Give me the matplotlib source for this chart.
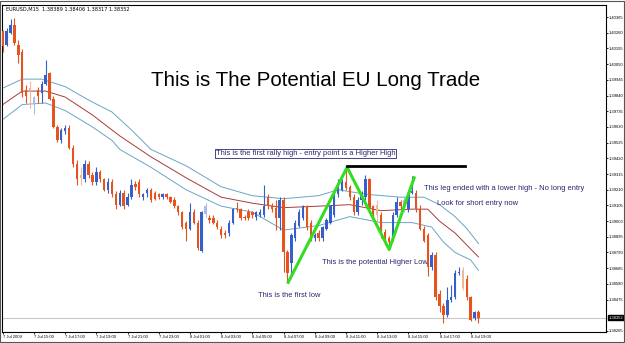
import matplotlib
matplotlib.use('Agg')
import matplotlib.pyplot as plt
from matplotlib.patches import Rectangle

# EURUSD M15, 7 Jul 2009 13:00 onwards, one entry per bar
opens = [1.4027, 1.4018, 1.4026, 1.4031, 1.4018, 1.4013, 1.3988, 1.3989, 1.3979, 1.3988,
         1.3986, 1.3992, 1.3999, 1.3982, 1.3963, 1.3954, 1.3960, 1.3962, 1.3949, 1.3938,
         1.3931, 1.3928, 1.3938, 1.3931, 1.3926, 1.3933, 1.3928, 1.3921, 1.3926, 1.3918,
         1.3911, 1.3919, 1.3911, 1.3916, 1.3925, 1.3926, 1.3916, 1.3919, 1.3921, 1.3919,
         1.3918, 1.3916, 1.3918, 1.3916, 1.3914, 1.3910, 1.3906, 1.3899, 1.3895, 1.3906,
         1.3899, 1.3880, 1.3905, 1.3902, 1.3902, 1.3899, 1.3895, 1.3892, 1.3892, 1.3899,
         1.3909, 1.3908, 1.3903, 1.3906, 1.3906, 1.3903, 1.3904, 1.3904, 1.3916, 1.3910,
         1.3909, 1.3902, 1.3914, 1.3879, 1.3872, 1.3889, 1.3897, 1.3902, 1.3910, 1.3899,
         1.3889, 1.3892, 1.3889, 1.3895, 1.3899, 1.3904, 1.3918, 1.3921, 1.3926, 1.3923,
         1.3916, 1.3906, 1.3914, 1.3916, 1.3928, 1.3910, 1.3911, 1.3904, 1.3893, 1.3889,
         1.3890, 1.3904, 1.3913, 1.3910, 1.3908, 1.3919, 1.3919, 1.3908, 1.3895, 1.3891,
         1.3869, 1.3877, 1.3851, 1.3843, 1.3837, 1.3847, 1.3849, 1.3865, 1.3867, 1.3861,
         1.3849, 1.3835, 1.38389]
highs = [1.4028, 1.4029, 1.4035, 1.4036, 1.4021, 1.4015, 1.3991, 1.3994, 1.3984, 1.3990,
         1.3994, 1.4008, 1.4000, 1.3984, 1.3964, 1.3962, 1.3964, 1.3964, 1.3951, 1.3941,
         1.3936, 1.3941, 1.3940, 1.3933, 1.3936, 1.3934, 1.3929, 1.3929, 1.3928, 1.3920,
         1.3921, 1.3921, 1.3919, 1.3928, 1.3927, 1.3928, 1.3919, 1.3922, 1.3922, 1.3920,
         1.3919, 1.3919, 1.3919, 1.3917, 1.3916, 1.3911, 1.3907, 1.3900, 1.3912, 1.3908,
         1.3901, 1.3907, 1.3912, 1.3904, 1.3904, 1.3901, 1.3897, 1.3894, 1.3901, 1.3909,
         1.3913, 1.3909, 1.3904, 1.3908, 1.3907, 1.3907, 1.3908, 1.3924, 1.3918, 1.3912,
         1.3914, 1.3916, 1.3916, 1.3881, 1.3892, 1.3901, 1.3908, 1.3911, 1.3911, 1.3901,
         1.3892, 1.3894, 1.3897, 1.3902, 1.3911, 1.3919, 1.3928, 1.3928, 1.3936, 1.3924,
         1.3918, 1.3916, 1.3920, 1.3931, 1.3929, 1.3911, 1.3914, 1.3906, 1.3895, 1.3890,
         1.3906, 1.3916, 1.3914, 1.3917, 1.3921, 1.3930, 1.3921, 1.3911, 1.3897, 1.3892,
         1.3879, 1.3879, 1.3854, 1.3845, 1.3856, 1.3857, 1.3867, 1.3869, 1.3869, 1.3864,
         1.3850, 1.3840, 1.38406]
lows = [1.4013, 1.4017, 1.4025, 1.4018, 1.4006, 1.3983, 1.3979, 1.3976, 1.3972, 1.3979,
        1.3979, 1.3991, 1.3981, 1.3962, 1.3953, 1.3952, 1.3958, 1.3948, 1.3936, 1.3924,
        1.3924, 1.3926, 1.3929, 1.3924, 1.3924, 1.3926, 1.3920, 1.3919, 1.3916, 1.3908,
        1.3910, 1.3908, 1.3910, 1.3915, 1.3921, 1.3916, 1.3914, 1.3916, 1.3913, 1.3914,
        1.3915, 1.3915, 1.3915, 1.3912, 1.3909, 1.3904, 1.3895, 1.3887, 1.3894, 1.3898,
        1.3881, 1.3879, 1.3903, 1.3899, 1.3898, 1.3895, 1.3889, 1.3889, 1.3890, 1.3898,
        1.3906, 1.3901, 1.3901, 1.3901, 1.3902, 1.3901, 1.3903, 1.3903, 1.3908, 1.3906,
        1.3894, 1.3894, 1.3866, 1.3859, 1.3864, 1.3887, 1.3896, 1.3901, 1.3894, 1.3887,
        1.3887, 1.3887, 1.3887, 1.3894, 1.3898, 1.3903, 1.3916, 1.3920, 1.3921, 1.3914,
        1.3904, 1.3904, 1.3911, 1.3914, 1.3906, 1.3902, 1.3899, 1.3889, 1.3884, 1.3881,
        1.3887, 1.3903, 1.3908, 1.3906, 1.3906, 1.3918, 1.3906, 1.3894, 1.3886, 1.3863,
        1.3867, 1.3847, 1.3839, 1.3832, 1.3836, 1.3846, 1.3848, 1.3864, 1.3854, 1.3847,
        1.3833, 1.3834, 1.38317]
closes = [1.4017, 1.4027, 1.4031, 1.4019, 1.4011, 1.3986, 1.3984, 1.3988, 1.3983, 1.3984,
          1.3992, 1.3998, 1.3982, 1.3963, 1.3954, 1.3961, 1.3962, 1.3949, 1.3938, 1.3928,
          1.3929, 1.3938, 1.3931, 1.3926, 1.3933, 1.3928, 1.3921, 1.3926, 1.3918, 1.3911,
          1.3919, 1.3910, 1.3916, 1.3924, 1.3923, 1.3918, 1.3918, 1.3921, 1.3914, 1.3915,
          1.3916, 1.3918, 1.3916, 1.3913, 1.3910, 1.3906, 1.3896, 1.3895, 1.3906, 1.3899,
          1.3882, 1.3906, 1.3910, 1.3901, 1.3899, 1.3896, 1.3891, 1.3891, 1.3899, 1.3908,
          1.3908, 1.3902, 1.3902, 1.3902, 1.3904, 1.3906, 1.3906, 1.3910, 1.3910, 1.3908,
          1.3902, 1.3914, 1.3879, 1.3865, 1.3891, 1.3899, 1.3906, 1.3910, 1.3896, 1.3889,
          1.3891, 1.3889, 1.3896, 1.3901, 1.3910, 1.3918, 1.3923, 1.3926, 1.3922, 1.3916,
          1.3906, 1.3914, 1.3918, 1.3928, 1.3909, 1.3905, 1.3904, 1.3891, 1.3887, 1.3886,
          1.3904, 1.3913, 1.3910, 1.3914, 1.3919, 1.3920, 1.3908, 1.3895, 1.3887, 1.3869,
          1.3877, 1.3849, 1.3843, 1.3837, 1.3847, 1.3849, 1.3865, 1.3866, 1.3855, 1.3849,
          1.3834, 1.3839, 1.38352]
faded_bars = [7, 8, 20, 52, 96, 103, 118]

# band lines (bar index, price)
upper_bars = [0, 5, 10, 16, 22, 28, 33, 38, 47, 56, 64, 72, 81, 86, 93, 102, 108, 112, 116, 119, 122]
upper_vals = [1.3989, 1.3995, 1.3995, 1.3990, 1.3981, 1.3973, 1.3961, 1.3948, 1.3937, 1.3923, 1.3917,
              1.3915, 1.3917, 1.3921, 1.3918, 1.3916, 1.3916, 1.3911, 1.3903, 1.3895, 1.3885]
middle_bars = [0, 5, 11, 16, 23, 30, 38, 47, 56, 64, 72, 81, 89, 97, 105, 109, 112, 116, 119, 122]
middle_vals = [1.3978, 1.3987, 1.3987, 1.3983, 1.3971, 1.3957, 1.3943, 1.3929, 1.3916, 1.3912,
               1.3909, 1.3910, 1.3911, 1.3907, 1.3908, 1.3908, 1.3900, 1.3892, 1.3884, 1.3876]
lower_bars = [0, 5, 11, 16, 23, 28, 30, 38, 47, 56, 64, 72, 81, 89, 97, 105, 110, 113, 116, 120, 122]
lower_vals = [1.3968, 1.3978, 1.3979, 1.3974, 1.3963, 1.3954, 1.3948, 1.3936, 1.3921, 1.3910, 1.3906,
              1.3894, 1.3897, 1.3903, 1.3899, 1.3899, 1.3896, 1.3886, 1.3879, 1.3874, 1.3867]

# hand drawn swing lines
swing_bars = [73.2, 88.3, 99.1, 105.5]
swing_vals = [1.3859, 1.3936, 1.3881, 1.3929]
high_line_bars = [88.3, 118.5]
high_line_val = 1.3937

bid = 1.38352
price_ticks = [1.38265, 1.38475, 1.38580, 1.38685, 1.38790, 1.38895, 1.39000, 1.39105,
               1.39210, 1.39315, 1.39420, 1.39525, 1.39630, 1.39735, 1.39840, 1.39945,
               1.40050, 1.40155, 1.40260, 1.40365]
time_ticks = [0, 8, 16, 24, 32, 40, 48, 56, 64, 72, 80, 88, 96, 104, 112, 120]
time_labels = ['7 Jul 2009', '7 Jul 15:00', '7 Jul 17:00', '7 Jul 19:00', '7 Jul 21:00',
               '7 Jul 23:00', '8 Jul 01:00', '8 Jul 03:00', '8 Jul 05:00', '8 Jul 07:00',
               '8 Jul 09:00', '8 Jul 11:00', '8 Jul 13:00', '8 Jul 15:00', '8 Jul 17:00',
               '8 Jul 19:00']

bull, bear = '#3560cc', '#e5531f'
bull_pale, bear_pale = '#a9bde6', '#f2b79a'
navy = '#27276e'
note_font = 5.4
tick_font = dict(family='Liberation Sans', size=3.0)

fig = plt.figure(figsize=(6.25, 3.43), dpi=100)
ax = fig.add_axes([2 / 625, 11 / 343, 604 / 625, 327 / 343])

for i in range(len(opens)):
    up = closes[i] >= opens[i]
    if i in faded_bars:
        col = bull_pale if up else bear_pale
    else:
        col = bull if up else bear
    ax.vlines(i, lows[i], highs[i], color=col, lw=0.8, zorder=3)
    lo = min(opens[i], closes[i])
    h = max(abs(closes[i] - opens[i]), 0.00004)
    ax.bar(i, h, bottom=lo, width=0.62, color=col, lw=0, zorder=4)

ax.plot(upper_bars, upper_vals, color='#6aa5c4', lw=0.7, zorder=2)
ax.plot(lower_bars, lower_vals, color='#6aa5c4', lw=0.7, zorder=2)
ax.plot(middle_bars, middle_vals, color='#a83a3a', lw=0.7, zorder=2)

ax.axhline(bid, color='#c8c8c8', lw=0.8, zorder=1)
ax.plot(swing_bars, swing_vals, color='#33dd22', lw=2.2, zorder=5)
ax.plot(high_line_bars, [high_line_val] * 2, color='black', lw=2.0, zorder=5)

ymin, ymax = 1.38258, 1.40446
ax.set_xlim(-0.2, 154.7)
ax.set_ylim(ymin, ymax)

ax.yaxis.tick_right()
ax.set_yticks(price_ticks)
ax.set_yticklabels([f'{p:.5f}' for p in price_ticks], fontdict=tick_font)
ax.set_xticks(time_ticks)
ax.set_xticklabels(time_labels, fontdict=tick_font, ha='left')
ax.tick_params(axis='both', length=1.5, width=0.6, pad=0.8, colors='black')
for s in ax.spines.values():
    s.set_linewidth(0.8)

# current price box
ax.text(1.004, (bid - ymin) / (ymax - ymin), f'{bid:.5f}', transform=ax.transAxes,
        fontdict=tick_font, color='white', va='center', ha='left',
        bbox=dict(boxstyle='square,pad=0.12', fc='black', ec='black'))

ax.text(0.006, 0.995, 'EURUSD,M15  1.38389 1.38406 1.38317 1.38352', transform=ax.transAxes,
        fontsize=3.6, va='top', ha='left')

ax.text(80.1, 1.3994, 'This is The Potential EU Long Trade', fontsize=14.8,
        family='Liberation Sans', ha='center', va='center')
ax.text(54.7, 1.3945, 'This is the first rally high - entry point is a Higher High', fontsize=note_font,
        family='Liberation Sans', color=navy, ha='left', va='center',
        bbox=dict(boxstyle='square,pad=0.12', fc='white', ec=navy, lw=0.6))
ax.text(108.0, 1.3922, 'This leg ended with a lower high - No long entry', fontsize=note_font,
        family='Liberation Sans', color=navy, ha='left', va='center')
ax.text(111.4, 1.3912, 'Look for short entry now', fontsize=note_font,
        family='Liberation Sans', color=navy, ha='left', va='center')
ax.text(81.9, 1.3872, 'This is the potential Higher Low', fontsize=note_font,
        family='Liberation Sans', color=navy, ha='left', va='center')
ax.text(65.5, 1.3850, 'This is the first low', fontsize=note_font,
        family='Liberation Sans', color=navy, ha='left', va='center')

fig.patches.append(Rectangle((0, 0.004), 0.998, 0.994, transform=fig.transFigure,
                             fill=False, ec='#555555', lw=0.8))

fig.savefig('out.png', dpi=100)
